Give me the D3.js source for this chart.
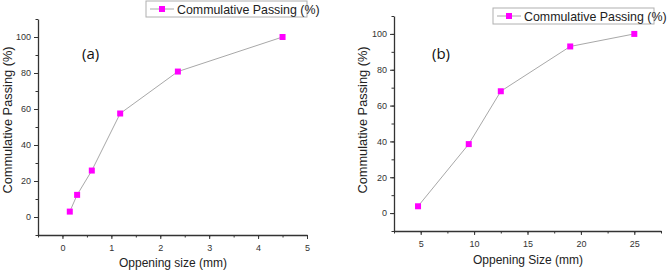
<!DOCTYPE html>
<html>
<head>
<meta charset="utf-8">
<script src="https://cdn.jsdelivr.net/npm/d3@7/dist/d3.min.js"></script>
<style>
  body { margin: 0; background: #fff; }
  svg { display: block; }
  .tick text { font-family: "Liberation Sans", Arial, sans-serif; font-size: 9px; fill: #333; }
  .domain, .tick line { stroke: #333; }
  .title { font-family: "Liberation Sans", Arial, sans-serif; font-size: 12px; fill: #222; }
  .ytitle { font-family: "Liberation Sans", Arial, sans-serif; font-size: 12.8px; fill: #222; }
  .legend { font-family: "Liberation Sans", Arial, sans-serif; font-size: 12.4px; fill: #222; }
  .panel { font-family: "Open Sans", sans-serif; font-size: 15px; fill: #111; }
</style>
</head>
<body>
<script>
const WIDTH = 669;
const HEIGHT = 272;

// panel (a): fine aggregate
var sizesA = [0.15, 0.3, 0.6, 1.18, 2.36, 4.5];
var passingA = [3, 12.3, 25.8, 57.5, 80.8, 100];
var xTicksA = [0, 1, 2, 3, 4, 5];

// panel (b): coarse aggregate
var sizesB = [4.75, 9.5, 12.5, 19, 25];
var passingB = [3.8, 38.5, 68, 93, 100];
var xTicksB = [5, 10, 15, 20, 25];

var yTicks = [0, 20, 40, 60, 80, 100];
var seriesName = 'Commulative Passing (%)';
var yTitle = 'Commulative Passing (%)';

var svg = d3.select('body').append('svg')
    .attr('width', WIDTH)
    .attr('height', HEIGHT);

function drawPanel(p) {
    var x = d3.scaleLinear().domain(p.xDomain).range([p.left, p.right]);
    var y = d3.scaleLinear().domain([-10, 110]).range([p.bottom, p.top]);
    var g = svg.append('g');

    // minor ticks
    var xMinor = d3.range(p.xDomain[0], p.xDomain[1] + 1e-9, p.xMinorStep);
    g.append('g')
        .attr('transform', 'translate(0,' + p.bottom + ')')
        .call(d3.axisBottom(x).tickValues(xMinor).tickSize(2.5).tickFormat(''))
        .call(function (s) { s.select('.domain').remove(); });
    g.append('g')
        .attr('transform', 'translate(' + p.left + ',0)')
        .call(d3.axisLeft(y).tickValues(d3.range(-10, 111, 10)).tickSize(2.5).tickFormat(''))
        .call(function (s) { s.select('.domain').remove(); });

    var xAxisG = g.append('g')
        .attr('transform', 'translate(0,' + p.bottom + ')')
        .call(d3.axisBottom(x).tickValues(p.xTicks).tickFormat(d3.format('d'))
            .tickSize(4).tickSizeOuter(0).tickPadding(6));
    var yAxisG = g.append('g')
        .attr('transform', 'translate(' + p.left + ',0)')
        .call(d3.axisLeft(y).tickValues(yTicks).tickFormat(d3.format('d'))
            .tickSize(4).tickSizeOuter(0).tickPadding(3));
    xAxisG.select('.domain').attr('stroke-width', 1.3);
    yAxisG.select('.domain').attr('stroke-width', 1.3);

    var pts = p.sizes.map(function (s, i) { return { x: s, y: p.passing[i] }; });
    var line = d3.line()
        .x(function (d) { return x(d.x); })
        .y(function (d) { return y(d.y); });
    g.append('path')
        .attr('d', line(pts))
        .attr('fill', 'none')
        .attr('stroke', '#a8a8a8')
        .attr('stroke-width', 1);
    g.selectAll('rect.pt').data(pts).enter().append('rect')
        .attr('class', 'pt')
        .attr('x', function (d) { return x(d.x) - 3; })
        .attr('y', function (d) { return y(d.y) - 3; })
        .attr('width', 6)
        .attr('height', 6)
        .attr('fill', '#ff00ff');

    // titles
    g.append('text').attr('class', 'title')
        .attr('x', p.xTitleX)
        .attr('y', p.xTitleY)
        .attr('text-anchor', 'middle')
        .text(p.xTitle);
    g.append('text').attr('class', 'ytitle')
        .attr('transform', 'translate(' + p.yTitleX + ',' + p.yTitleY + ') rotate(-90)')
        .attr('text-anchor', 'middle')
        .text(yTitle);
    g.append('text').attr('class', 'panel')
        .attr('x', p.labelX)
        .attr('y', 59)
        .text(p.label);

    // legend
    var lg = g.append('g').attr('transform', 'translate(' + p.legX + ',' + p.legY + ')');
    lg.append('rect')
        .attr('width', 161).attr('height', 16)
        .attr('fill', '#fff').attr('stroke', '#b0b0b0');
    lg.append('line')
        .attr('x1', 4).attr('x2', 28).attr('y1', 8).attr('y2', 8)
        .attr('stroke', '#a8a8a8');
    lg.append('rect')
        .attr('x', 13).attr('y', 5).attr('width', 6).attr('height', 6)
        .attr('fill', '#ff00ff');
    lg.append('text').attr('class', 'legend')
        .attr('x', 31).attr('y', 12.5)
        .text(seriesName);
}

drawPanel({
    sizes: sizesA, passing: passingA, xTicks: xTicksA,
    xDomain: [-0.5, 5], xMinorStep: 0.5,
    left: 38, right: 307, top: 19, bottom: 235,
    xTitle: 'Oppening size (mm)', xTitleX: 173, xTitleY: 267,
    yTitleX: 12, yTitleY: 120,
    label: '(a)', labelX: 82,
    legX: 146, legY: 1
});

drawPanel({
    sizes: sizesB, passing: passingB, xTicks: xTicksB,
    xDomain: [2.5, 27.5], xMinorStep: 2.5,
    left: 394, right: 661, top: 16, bottom: 231,
    xTitle: 'Oppening Size (mm)', xTitleX: 528, xTitleY: 264,
    yTitleX: 367, yTitleY: 120,
    label: '(b)', labelX: 432,
    legX: 493, legY: 8
});
</script>
</body>
</html>
